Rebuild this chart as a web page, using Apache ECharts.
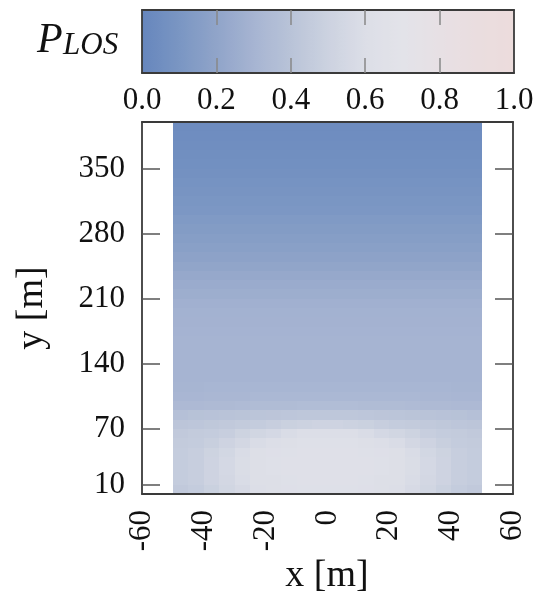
<!DOCTYPE html>
<html>
<head>
<meta charset="utf-8">
<script src="https://cdn.jsdelivr.net/npm/echarts@6/dist/echarts.min.js"></script>
<style>html,body{margin:0;padding:0;background:#fff}#c{width:537px;height:596px}</style>
</head>
<body>
<div id="c"></div>
<script>
// ---- data ----
const xEdges = [-50,-45,-40,-35,-30,-25,-20,-15,-10,-5,0,5,10,15,20,25,30,35,40,45,50];
const yEdges = [0,10,20,30,40,50,60,70,80,90,100,110,120,130,140,150,160,170,180,190,200,
                210,220,230,240,250,260,270,280,290,300,310,320,330,340,350,360,370,380,390,400];
// P_LOS near the ground (y 0..120, rows bottom->top, 5 m columns left->right)
const pNear = [
 [0.44,0.46,0.49,0.53,0.56,0.60,0.615,0.625,0.63,0.63,0.63,0.63,0.625,0.615,0.60,0.57,0.53,0.49,0.46,0.44],
 [0.46,0.475,0.51,0.545,0.58,0.61,0.62,0.63,0.64,0.64,0.64,0.64,0.63,0.62,0.61,0.58,0.545,0.51,0.475,0.46],
 [0.46,0.475,0.51,0.55,0.59,0.615,0.63,0.64,0.645,0.645,0.645,0.645,0.64,0.63,0.615,0.59,0.55,0.51,0.475,0.46],
 [0.46,0.475,0.51,0.55,0.59,0.615,0.63,0.64,0.645,0.645,0.645,0.645,0.64,0.63,0.615,0.59,0.55,0.51,0.475,0.46],
 [0.46,0.475,0.505,0.54,0.58,0.61,0.625,0.635,0.645,0.645,0.645,0.645,0.635,0.625,0.61,0.58,0.54,0.505,0.475,0.46],
 [0.45,0.46,0.48,0.51,0.545,0.58,0.605,0.62,0.63,0.63,0.63,0.63,0.62,0.605,0.58,0.545,0.51,0.48,0.46,0.45],
 [0.44,0.45,0.46,0.475,0.505,0.53,0.55,0.58,0.60,0.60,0.60,0.60,0.58,0.55,0.53,0.505,0.475,0.46,0.45,0.44],
 [0.415,0.42,0.43,0.44,0.45,0.46,0.475,0.49,0.50,0.51,0.51,0.50,0.49,0.475,0.46,0.45,0.44,0.43,0.42,0.415],
 [0.38,0.39,0.395,0.40,0.405,0.41,0.415,0.42,0.425,0.425,0.425,0.425,0.42,0.415,0.41,0.405,0.40,0.395,0.39,0.38],
 [0.335,0.335,0.34,0.34,0.345,0.35,0.35,0.355,0.36,0.36,0.36,0.36,0.355,0.35,0.35,0.345,0.34,0.34,0.335,0.335],
 [0.315,0.315,0.32,0.32,0.32,0.325,0.325,0.325,0.325,0.325,0.325,0.325,0.325,0.325,0.325,0.325,0.32,0.32,0.315,0.315],
 [0.305,0.305,0.31,0.31,0.31,0.31,0.31,0.31,0.31,0.31,0.31,0.31,0.31,0.31,0.31,0.31,0.31,0.31,0.305,0.305]
];
// P_LOS higher up (y 120..400, rows bottom->top, same across x)
const pFar = [0.30,0.30,0.30,0.30,0.30,0.295,0.29,0.285,0.275,0.26,0.245,0.225,0.205,0.185,
              0.17,0.155,0.14,0.125,0.11,0.10,0.09,0.08,0.07,0.06,0.055,0.05,0.045,0.04];
const xTicks = [-60,-40,-20,0,20,40,60];
const yTicks = [10,70,140,210,280,350];
const cbTicks = [0,0.2,0.4,0.6,0.8,1.0];
const cbColors = ['#6686bd','#7a96c3','#90a4c9','#a6b4d2','#b9c3d8','#ccd2e0','#dcdee7','#e3e3e9','#e7e0e4','#eadddf','#ecdcdc'];

// ---- build cells ----
const cells = [];
pNear.forEach((row, i) => {
  row.forEach((v, j) => {
    cells.push([xEdges[j], xEdges[j+1], yEdges[i], yEdges[i+1], v]);
  });
});
pFar.forEach((v, k) => {
  const i = pNear.length + k;
  cells.push([xEdges[0], xEdges[xEdges.length-1], yEdges[i], yEdges[i+1], v]);
});

const FONT = '"Liberation Serif", "Times New Roman", serif';
const chart = echarts.init(document.getElementById('c'), null, {renderer:'canvas'});
const frameLine = {show:true, onZero:false, lineStyle:{color:'#3a3a3a', width:1.8}};
chart.setOption({
  animation:false,
  backgroundColor:'#fff',
  grid:[
    {left:142, top:122, width:371, height:372, containLabel:false},
    {left:142, top:10, width:372, height:63, containLabel:false}
  ],
  xAxis:[
    {gridIndex:0, type:'value', min:-60, max:60, interval:20, position:'bottom', z:10,
     axisLine:frameLine, axisTick:{show:false}, splitLine:{show:false},
     axisLabel:{rotate:90, margin:16, fontFamily:FONT, fontSize:31, color:'#111',
       customValues:xTicks}},
    {gridIndex:0, type:'value', min:-60, max:60, position:'top', z:10,
     axisLine:frameLine, axisTick:{show:false}, axisLabel:{show:false}, splitLine:{show:false}},
    {gridIndex:1, type:'value', min:0, max:1, interval:0.2, position:'bottom', z:10,
     axisLine:frameLine,
     axisTick:{inside:true, length:15, lineStyle:{color:'#888', width:1.5}, customValues:cbTicks.slice(1,-1)},
     axisLabel:{margin:12, fontFamily:FONT, fontSize:31, color:'#111',
       customValues:cbTicks, formatter:v=>v.toFixed(1)},
     splitLine:{show:false}},
    {gridIndex:1, type:'value', min:0, max:1, interval:0.2, position:'top', z:10,
     axisLine:frameLine,
     axisTick:{inside:true, length:15, lineStyle:{color:'#888', width:1.5}, customValues:cbTicks.slice(1,-1)},
     axisLabel:{show:false}, splitLine:{show:false}}
  ],
  yAxis:[
    {gridIndex:0, type:'value', min:0, max:400, position:'left', z:10,
     axisLine:frameLine,
     axisTick:{inside:true, length:18, lineStyle:{color:'#555', width:1.5}, customValues:yTicks},
     axisLabel:{margin:17, fontFamily:FONT, fontSize:31, color:'#111', customValues:yTicks},
     splitLine:{show:false}},
    {gridIndex:0, type:'value', min:0, max:400, position:'right', z:10,
     axisLine:frameLine,
     axisTick:{inside:true, length:18, lineStyle:{color:'#555', width:1.5}, customValues:yTicks},
     axisLabel:{show:false}, splitLine:{show:false}},
    {gridIndex:1, type:'value', min:0, max:1, position:'left', z:10,
     axisLine:frameLine, axisTick:{show:false}, axisLabel:{show:false}, splitLine:{show:false}},
    {gridIndex:1, type:'value', min:0, max:1, position:'right', z:10,
     axisLine:frameLine, axisTick:{show:false}, axisLabel:{show:false}, splitLine:{show:false}}
  ],
  visualMap:{
    type:'continuous', min:0, max:1, dimension:4, seriesIndex:0,
    orient:'horizontal', left:142, top:10, itemWidth:63, itemHeight:372,
    padding:0, calculable:false, hoverLink:false, text:null,
    inRange:{color:cbColors}
  },
  series:[{
    type:'custom', xAxisIndex:0, yAxisIndex:0, coordinateSystem:'cartesian2d',
    encode:{x:[0,1], y:[2,3]},
    data:cells,
    renderItem:function(params, api){
      const p0 = api.coord([api.value(0), api.value(3)]);
      const p1 = api.coord([api.value(1), api.value(2)]);
      const x0 = Math.round(p0[0]), x1 = Math.round(p1[0]);
      const y0 = Math.round(p0[1]), y1 = Math.round(p1[1]);
      return {type:'rect', shape:{x:x0, y:y0, width:x1-x0, height:y1-y0},
              style:{fill:api.visual('color'), stroke:null}};
    }
  }],
  graphic:[
    {type:'text', x:37, y:20, style:{text:'P', font:'italic 42px '+FONT, fill:'#111', textVerticalAlign:'top'}},
    {type:'text', x:63, y:61, style:{text:'LOS', font:'italic 31px '+FONT, fill:'#111', textVerticalAlign:'bottom'}},
    {type:'text', x:327, y:576, style:{text:'x [m]', font:'38px '+FONT, fill:'#111', textAlign:'center', textVerticalAlign:'middle'}},
    {type:'text', x:32, y:308, rotation:Math.PI/2, style:{text:'y [m]', font:'38px '+FONT, fill:'#111', textAlign:'center', textVerticalAlign:'middle'}}
  ]
});
</script>
</body>
</html>
